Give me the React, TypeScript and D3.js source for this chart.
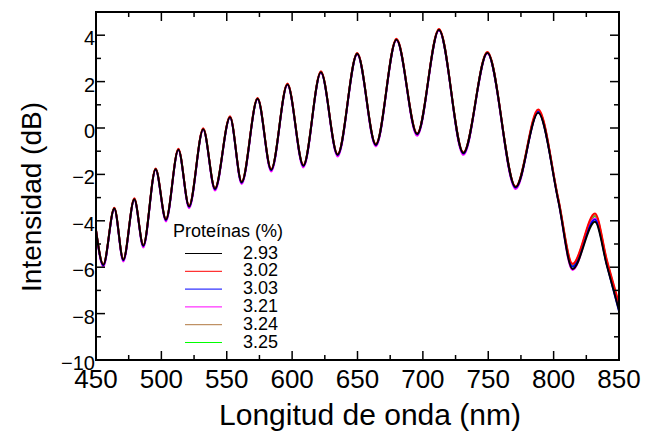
import React from 'react';
import * as d3 from 'd3';

const wavelengths = [450, 455.6, 464, 470.9, 479.3, 486.2, 495.6, 503.5, 513, 521.2, 532, 541, 552.5, 561.4, 573.6, 584, 596.4, 608.6, 622, 634.8, 649.8, 664, 679.8, 695.6, 712.3, 731, 749.3, 771, 788.2, 803.6, 814.5, 831.6, 840.8, 850];

const s293 = [-4.4, -5.9, -3.47, -5.68, -3.07, -5.07, -1.78, -3.95, -0.93, -3.38, -0.05, -2.62, 0.47, -2.34, 1.26, -1.8, 1.88, -1.62, 2.41, -1.15, 3.2, -0.72, 3.81, -0.26, 4.23, -1.08, 3.24, -2.55, 0.65, -3.15, -6.08, -4.04, -5.95, -7.85];
const s302 = [-4.37, -5.87, -3.43, -5.65, -3.03, -5.04, -1.74, -3.92, -0.89, -3.35, -0.01, -2.59, 0.51, -2.31, 1.3, -1.77, 1.92, -1.59, 2.45, -1.12, 3.24, -0.69, 3.85, -0.23, 4.27, -1.05, 3.28, -2.52, 0.8, -3.05, -5.85, -3.68, -5.7, -7.55];
const s303 = [-4.4, -5.92, -3.47, -5.7, -3.07, -5.09, -1.78, -3.97, -0.93, -3.4, -0.05, -2.64, 0.47, -2.36, 1.26, -1.82, 1.88, -1.64, 2.41, -1.17, 3.2, -0.74, 3.81, -0.28, 4.23, -1.1, 3.24, -2.57, 0.7, -3.12, -5.98, -3.95, -5.92, -7.9];
const s321 = [-4.45, -5.98, -3.5, -5.76, -3.1, -5.15, -1.81, -4.03, -0.96, -3.46, -0.08, -2.7, 0.44, -2.42, 1.23, -1.88, 1.85, -1.7, 2.38, -1.23, 3.17, -0.8, 3.78, -0.34, 4.2, -1.16, 3.21, -2.63, 0.68, -3.15, -6.12, -3.9, -5.9, -7.8];
const s324 = [-4.4, -5.9, -3.47, -5.68, -3.07, -5.07, -1.78, -3.95, -0.93, -3.38, -0.05, -2.62, 0.47, -2.34, 1.26, -1.8, 1.88, -1.62, 2.41, -1.15, 3.2, -0.72, 3.81, -0.26, 4.23, -1.08, 3.24, -2.55, 0.74, -3.08, -5.9, -3.75, -5.75, -7.65];
const s325 = [-4.4, -5.9, -3.46, -5.68, -3.06, -5.07, -1.77, -3.95, -0.92, -3.38, -0.04, -2.62, 0.48, -2.34, 1.27, -1.8, 1.89, -1.62, 2.42, -1.15, 3.21, -0.72, 3.82, -0.26, 4.24, -1.08, 3.25, -2.55, 0.72, -3.1, -5.95, -3.8, -5.8, -7.7];

const seriesValues = [s293, s302, s303, s321, s324, s325];
const seriesLabels = ['2.93', '3.02', '3.03', '3.21', '3.24', '3.25'];
const seriesColors = ['#000000', '#ff0000', '#0000ff', '#ff00ff', '#b07840', '#00ff00'];

const xMajorTicks = [450, 500, 550, 600, 650, 700, 750, 800, 850];
const xMinorTicks = [475, 525, 575, 625, 675, 725, 775, 825];
const yMajorTicks = [-10, -8, -6, -4, -2, 0, 2, 4];
const yMinorTicks = [-9, -7, -5, -3, -1, 1, 3, 5];

const legendTitle = 'Proteínas (%)';
const xTitle = 'Longitud de onda (nm)';
const yTitle = 'Intensidad (dB)';

const FONT = 'Liberation Sans, Arial, sans-serif';

const fmtY = (v: number) => (v < 0 ? '\u2212' + Math.abs(v) : String(v));

export default function App() {
  const W = 653, H = 435;
  const L = 96, T = 12, R = 619, B = 360;
  const x = d3.scaleLinear().domain([450, 850]).range([L, R]);
  const y = d3.scaleLinear().domain([-10, 5]).range([B, T]);
  const line = d3
    .line<number>()
    .x((_, i) => x(wavelengths[i]))
    .y((d) => y(d))
    .curve(d3.curveMonotoneX);

  const majLen = 9, minLen = 5;
  const order = [5, 4, 3, 2, 1, 0];

  return (
    <svg width={W} height={H} style={{ position: 'absolute', left: 0, top: 0, background: '#fff' }} fontFamily={FONT}>
      <rect x={0} y={0} width={W} height={H} fill="#fff" />
      {order.map((k) => (
        <path key={k} d={line(seriesValues[k]) || ''} fill="none" stroke={seriesColors[k]} strokeWidth={1.9} />
      ))}
      {/* frame */}
      <rect x={L} y={T} width={R - L} height={B - T} fill="none" stroke="#000" strokeWidth={2} />
      {/* x ticks */}
      {xMajorTicks.map((t) => (
        <g key={'xm' + t}>
          <line x1={x(t)} x2={x(t)} y1={B} y2={B - majLen} stroke="#000" strokeWidth={1.5} />
          <line x1={x(t)} x2={x(t)} y1={T} y2={T + majLen} stroke="#000" strokeWidth={1.5} />
          <text x={x(t)} y={388} fontSize={26} textAnchor="middle">{t}</text>
        </g>
      ))}
      {xMinorTicks.map((t) => (
        <g key={'xn' + t}>
          <line x1={x(t)} x2={x(t)} y1={B} y2={B - minLen} stroke="#000" strokeWidth={1.5} />
          <line x1={x(t)} x2={x(t)} y1={T} y2={T + minLen} stroke="#000" strokeWidth={1.5} />
        </g>
      ))}
      {yMajorTicks.map((t) => (
        <g key={'ym' + t}>
          <line x1={L} x2={L + majLen} y1={y(t)} y2={y(t)} stroke="#000" strokeWidth={1.5} />
          <line x1={R} x2={R - majLen} y1={y(t)} y2={y(t)} stroke="#000" strokeWidth={1.5} />
          <text x={95} y={y(t) + 10} fontSize={20} textAnchor="end">{fmtY(t)}</text>
        </g>
      ))}
      {yMinorTicks.map((t) => (
        <g key={'yn' + t}>
          <line x1={L} x2={L + minLen} y1={y(t)} y2={y(t)} stroke="#000" strokeWidth={1.5} />
          <line x1={R} x2={R - minLen} y1={y(t)} y2={y(t)} stroke="#000" strokeWidth={1.5} />
        </g>
      ))}
      {/* axis titles */}
      <text x={370} y={425} fontSize={30} textAnchor="middle">{xTitle}</text>
      <text transform={`translate(41, ${197}) rotate(-90)`} fontSize={28} textAnchor="middle">{yTitle}</text>
      {/* legend */}
      <text x={173} y={237} fontSize={18}>{legendTitle}</text>
      {seriesLabels.map((lab, i) => (
        <g key={lab}>
          <line x1={185} x2={222} y1={253.5 + i * 17.8} y2={253.5 + i * 17.8} stroke={seriesColors[i]} strokeWidth={1} />
          <text x={243} y={258.5 + i * 17.8} fontSize={18}>{lab}</text>
        </g>
      ))}
    </svg>
  );
}
